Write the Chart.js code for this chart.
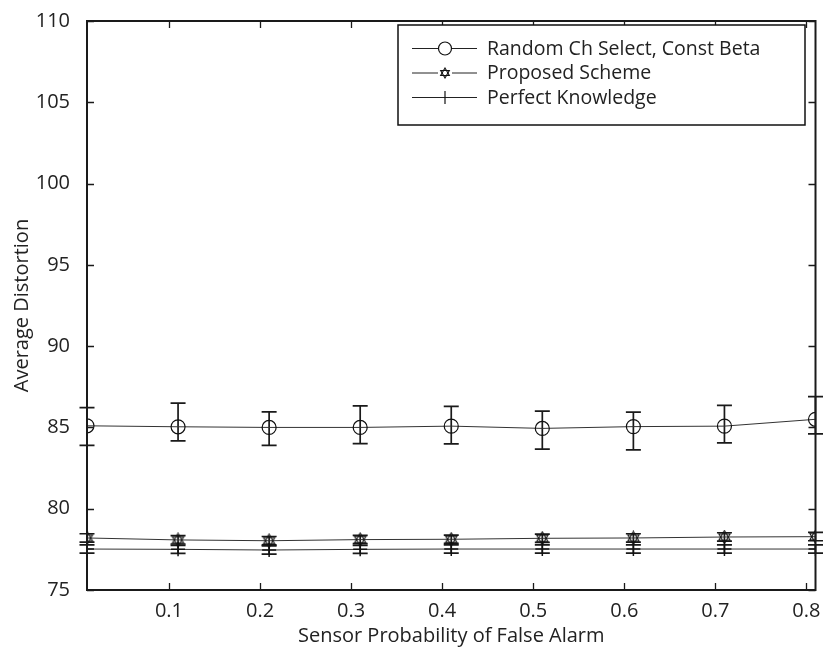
<!DOCTYPE html>
<html>
<head>
<meta charset="utf-8">
<script src="https://cdn.jsdelivr.net/npm/chart.js@4"></script>
<style>
html,body{margin:0;padding:0;background:#fff;}
#wrap{width:824px;height:652px;}
</style>
</head>
<body>
<div id="wrap"><canvas id="c" width="824" height="652"></canvas></div>
<script>
// ---- data ----
const xValues = [0.01, 0.11, 0.21, 0.31, 0.41, 0.51, 0.61, 0.71, 0.81];
const xTickValues = [0.1, 0.2, 0.3, 0.4, 0.5, 0.6, 0.7, 0.8];
const yTickValues = [75, 80, 85, 90, 95, 100, 105, 110];

const randomMean = [85.1, 85.04, 85.0, 85.0, 85.08, 84.94, 85.05, 85.08, 85.5];
const randomHigh = [86.22, 86.5, 85.96, 86.32, 86.3, 86.0, 85.94, 86.36, 86.9];
const randomLow  = [83.89, 84.17, 83.89, 84.0, 83.99, 83.66, 83.62, 84.05, 84.6];

const proposedMean = [78.2, 78.08, 78.03, 78.1, 78.12, 78.18, 78.2, 78.26, 78.28];
const proposedHigh = [78.46, 78.34, 78.29, 78.36, 78.38, 78.44, 78.46, 78.52, 78.54];
const proposedLow  = [77.95, 77.83, 77.78, 77.85, 77.87, 77.93, 77.95, 78.01, 78.03];

const perfectMean = [77.52, 77.5, 77.46, 77.5, 77.52, 77.52, 77.52, 77.52, 77.52];
const perfectHigh = [77.77, 77.75, 77.71, 77.75, 77.77, 77.77, 77.77, 77.77, 77.77];
const perfectLow  = [77.27, 77.25, 77.21, 77.25, 77.27, 77.27, 77.27, 77.27, 77.27];

const seriesLabels = ['Random Ch Select, Const Beta', 'Proposed Scheme', 'Perfect Knowledge'];

// ---- styling helpers ----
const FONT = '"Open Sans", "Noto Sans", sans-serif';
const TXT = '#222';
const FS = 20;

function makeHexagram(size) {
  const c = document.createElement('canvas');
  c.width = size; c.height = size;
  const g = c.getContext('2d');
  const cx = size / 2, cy = size / 2, r = size / 2 - 1;
  g.strokeStyle = '#111'; g.lineWidth = 1.1;
  for (const off of [-Math.PI / 2, Math.PI / 2]) {
    g.beginPath();
    for (let i = 0; i < 3; i++) {
      const a = off + i * 2 * Math.PI / 3;
      const px = cx + r * Math.cos(a), py = cy + r * Math.sin(a);
      if (i === 0) g.moveTo(px, py); else g.lineTo(px, py);
    }
    g.closePath(); g.stroke();
  }
  return c;
}
const hexMarker = makeHexagram(15);

function pts(ys) { return xValues.map((x, i) => ({x: x, y: ys[i]})); }

const errorSets = [
  {hi: randomHigh, lo: randomLow, cap: 7.5},
  {hi: proposedHigh, lo: proposedLow, cap: 7.5},
  {hi: perfectHigh, lo: perfectLow, cap: 7.5}
];

const matlabPlugin = {
  id: 'matlabStyle',
  beforeDatasetsDraw(chart) {
    const ctx = chart.ctx, xs = chart.scales.x, ys = chart.scales.y;
    ctx.save();
    ctx.strokeStyle = '#1a1a1a';
    ctx.lineWidth = 1.7;
    errorSets.forEach(es => {
      xValues.forEach((xv, i) => {
        const px = xs.getPixelForValue(xv);
        const ph = ys.getPixelForValue(es.hi[i]);
        const pl = ys.getPixelForValue(es.lo[i]);
        ctx.beginPath();
        ctx.moveTo(px, ph); ctx.lineTo(px, pl);
        ctx.moveTo(px - es.cap, ph); ctx.lineTo(px + es.cap, ph);
        ctx.moveTo(px - es.cap, pl); ctx.lineTo(px + es.cap, pl);
        ctx.stroke();
      });
    });
    ctx.restore();
  },
  afterDraw(chart) {
    const ctx = chart.ctx, xs = chart.scales.x, ys = chart.scales.y;
    const a = chart.chartArea;
    ctx.save();
    ctx.strokeStyle = '#1a1a1a';
    ctx.lineWidth = 2;
    // frame
    ctx.strokeRect(a.left, a.top, a.right - a.left, a.bottom - a.top);
    // inward ticks
    ctx.lineWidth = 1.3;
    const tl = 7;
    ctx.beginPath();
    xTickValues.forEach(v => {
      const px = Math.round(xs.getPixelForValue(v)) + 0.5;
      ctx.moveTo(px, a.bottom); ctx.lineTo(px, a.bottom - tl);
      ctx.moveTo(px, a.top); ctx.lineTo(px, a.top + tl);
    });
    yTickValues.forEach(v => {
      const py = Math.round(ys.getPixelForValue(v)) + 0.5;
      ctx.moveTo(a.left, py); ctx.lineTo(a.left + tl, py);
      ctx.moveTo(a.right, py); ctx.lineTo(a.right - tl, py);
    });
    ctx.stroke();

    // legend box
    const bx = 398, by = 25, bw = 407, bh = 100;
    ctx.fillStyle = '#fff';
    ctx.fillRect(bx, by, bw, bh);
    ctx.lineWidth = 1.5;
    ctx.strokeStyle = '#111';
    ctx.strokeRect(bx, by, bw, bh);
    const rows = [48, 72.5, 97];
    ctx.font = '19.5px ' + FONT;
    ctx.textBaseline = 'middle';
    ctx.textAlign = 'left';
    rows.forEach((ry, i) => {
      ctx.strokeStyle = '#222';
      ctx.lineWidth = 1;
      ctx.beginPath();
      ctx.moveTo(412, ry + 0.5); ctx.lineTo(477, ry + 0.5);
      ctx.stroke();
      ctx.lineWidth = 1.2;
      ctx.strokeStyle = '#111';
      if (i === 0) {
        ctx.fillStyle = '#fff';
        ctx.beginPath(); ctx.arc(445, ry + 0.5, 6.5, 0, Math.PI * 2); ctx.fill(); ctx.stroke();
      } else if (i === 1) {
        ctx.fillStyle = '#fff';
        ctx.fillRect(438, ry - 7, 14, 14);
        ctx.drawImage(makeHexagram(12), 439, ry - 5.5);
      } else {
        ctx.beginPath();
        ctx.moveTo(445, ry - 6); ctx.lineTo(445, ry + 7);
        ctx.stroke();
      }
      ctx.fillStyle = TXT;
      ctx.fillText(seriesLabels[i], 487, ry + 1);
    });
    ctx.restore();
  }
};

new Chart(document.getElementById('c'), {
  type: 'line',
  data: {
    datasets: [
      {
        label: seriesLabels[0], data: pts(randomMean),
        borderColor: '#333', borderWidth: 1, tension: 0,
        pointStyle: 'circle', pointRadius: 7, pointBorderWidth: 1.2,
        pointBorderColor: '#111', pointBackgroundColor: 'rgba(0,0,0,0)'
      },
      {
        label: seriesLabels[1], data: pts(proposedMean),
        borderColor: '#333', borderWidth: 1, tension: 0,
        pointStyle: hexMarker, pointRadius: 7
      },
      {
        label: seriesLabels[2], data: pts(perfectMean),
        borderColor: '#333', borderWidth: 1, tension: 0,
        pointStyle: 'cross', pointRadius: 7, pointBorderWidth: 1.5,
        pointBorderColor: '#111'
      }
    ]
  },
  options: {
    responsive: false,
    animation: false,
    devicePixelRatio: 1,
    layout: {padding: {top: 15, right: 8, left: 0, bottom: 0}},
    plugins: {legend: {display: false}, tooltip: {enabled: false}},
    scales: {
      x: {
        type: 'linear', min: 0.01, max: 0.81,
        afterBuildTicks(s) { s.ticks = xTickValues.map(v => ({value: v})); },
        afterFit(s) { s.height = 62; },
        grid: {display: false},
        border: {display: false},
        ticks: {
          color: TXT, font: {family: FONT, size: FS}, padding: 1,
          maxRotation: 0, autoSkip: false,
          callback: v => String(v)
        },
        title: {
          display: true, text: 'Sensor Probability of False Alarm',
          color: TXT, font: {family: FONT, size: FS},
          padding: {top: 0, bottom: 4}
        }
      },
      y: {
        type: 'linear', min: 75, max: 110,
        afterBuildTicks(s) { s.ticks = yTickValues.map(v => ({value: v})); },
        afterFit(s) { s.width = 87; },
        grid: {display: false},
        border: {display: false},
        ticks: {
          color: TXT, font: {family: FONT, size: FS}, padding: 9,
          autoSkip: false, callback: v => String(v)
        },
        title: {
          display: true, text: 'Average Distortion',
          color: TXT, font: {family: FONT, size: FS},
          padding: {top: 10, bottom: 0}
        }
      }
    }
  },
  plugins: [matlabPlugin]
});
</script>
</body>
</html>
